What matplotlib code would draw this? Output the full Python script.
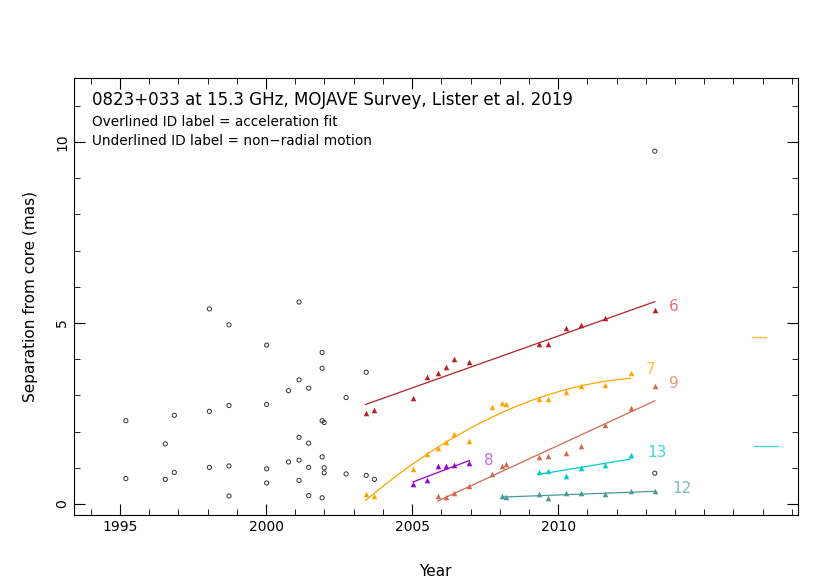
import numpy as np
import matplotlib
matplotlib.use("Agg")
import matplotlib.pyplot as plt
from matplotlib.lines import Line2D

grey_year = [1995.2,1995.2,1996.55,1996.55,1996.86,1996.86,1998.06,1998.06,1998.06,
             1998.73,1998.73,1998.73,1998.73,2000.02,2000.02,2000.02,2000.02,
             2000.77,2000.77,2001.13,2001.13,2001.13,2001.13,2001.13,
             2001.46,2001.46,2001.46,2001.46,2001.92,2001.92,2001.92,2001.92,2001.92,
             2001.99,2001.99,2001.99,2002.74,2002.74,2003.43,2003.43,2003.71,2013.31,2013.31]
grey_sep = [2.30,0.70,1.66,0.68,2.45,0.87,5.39,2.56,1.01,
            4.95,2.72,1.05,0.22,4.39,2.75,0.97,0.58,
            3.13,1.16,5.58,3.43,1.84,1.21,0.65,
            3.20,1.68,1.01,0.23,4.19,3.75,2.30,1.30,0.17,
            2.25,1.00,0.86,2.94,0.83,3.64,0.79,0.68,9.75,0.85]

c6_year = [2003.41,2003.71,2005.04,2005.50,2005.88,2006.17,2006.45,2006.96,2009.35,2009.65,2010.26,2010.78,2011.60,2013.31]
c6_sep  = [2.52,2.61,2.94,3.51,3.63,3.79,4.01,3.93,4.41,4.41,4.86,4.95,5.13,5.36]
c6_fit_year = [2003.41,2013.31]; c6_fit_sep = [2.75,5.59]

c7_year = [2003.41,2003.71,2005.04,2005.50,2005.88,2006.17,2006.45,2006.96,2007.73,2008.09,2008.23,2009.35,2009.65,2010.26,2010.78,2011.60,2012.48]
c7_sep  = [0.27,0.22,0.96,1.37,1.54,1.72,1.92,1.75,2.68,2.79,2.75,2.91,2.90,3.10,3.27,3.30,3.63]
c7_fit_year = [2003.41,2006.32,2009.35,2012.48]; c7_fit_sep = [0.09,1.81,2.91,3.48]

c8_year = [2005.04,2005.50,2005.88,2006.17,2006.45,2006.96]
c8_sep  = [0.56,0.66,1.04,1.04,1.08,1.12]
c8_fit_year = [2005.04,2006.96]; c8_fit_sep = [0.61,1.20]

c9_year = [2005.88,2006.17,2006.45,2006.96,2007.73,2008.09,2008.23,2009.35,2009.65,2010.26,2010.78,2011.60,2012.48,2013.31]
c9_sep  = [0.23,0.20,0.29,0.49,0.83,1.06,1.10,1.29,1.33,1.40,1.61,2.17,2.66,3.27]
c9_fit_year = [2005.88,2013.31]; c9_fit_sep = [0.08,2.85]

c13_year = [2009.35,2009.65,2010.26,2010.78,2011.60,2012.48]
c13_sep  = [0.88,0.92,0.77,1.00,1.09,1.35]
c13_fit_year = [2009.35,2012.48]; c13_fit_sep = [0.82,1.24]

c12_year = [2008.09,2008.23,2009.35,2009.65,2010.26,2010.78,2011.60,2012.48,2013.31]
c12_sep  = [0.22,0.20,0.28,0.17,0.30,0.30,0.28,0.35,0.36]
c12_fit_year = [2008.09,2013.31]; c12_fit_sep = [0.19,0.35]

label_year = [2013.8, 2013.0, 2007.45, 2013.8, 2013.05, 2013.9]
label_sep  = [5.45, 3.72, 1.19, 3.34, 1.43, 0.42]

fig = plt.figure(figsize=(8.3,5.87), dpi=100)
ax = fig.add_axes([0.089,0.123,0.872,0.744])
ax.scatter(grey_year, grey_sep, s=9, facecolors='none', edgecolors='#333333', linewidths=0.7, zorder=3)

comps = [
    ("6", c6_year, c6_sep, c6_fit_year, c6_fit_sep, '#b22222', '#e07070', 1, None),
    ("7", c7_year, c7_sep, c7_fit_year, c7_fit_sep, '#ffa500', '#ffc040', 2, 'over'),
    ("8", c8_year, c8_sep, c8_fit_year, c8_fit_sep, '#9400d3', '#c070e0', 1, None),
    ("9", c9_year, c9_sep, c9_fit_year, c9_fit_sep, '#d2694f', '#e89878', 1, None),
    ("13", c13_year, c13_sep, c13_fit_year, c13_fit_sep, '#00cccc', '#40d8d8', 1, 'under'),
    ("12", c12_year, c12_sep, c12_fit_year, c12_fit_sep, '#4a9a9a', '#80b8b8', 1, None),
]
decos = []
for i, (lab, yr, sp, fy, fs, col, lcol, deg, deco) in enumerate(comps):
    ax.scatter(yr, sp, marker='^', s=16, color=col, zorder=4, linewidths=0)
    p = np.polyfit(fy, fs, deg)
    xx = np.linspace(fy[0], fy[-1], 100)
    ax.plot(xx, np.polyval(p, xx), color=col, lw=0.9, zorder=3)
    t = ax.text(label_year[i], label_sep[i], lab, color=lcol, fontsize=11, va='center', ha='left')
    if deco:
        decos.append((t, deco, lcol))

fig.canvas.draw()
r = fig.canvas.get_renderer()
for t, deco, c in decos:
    bb = t.get_window_extent(r)
    y = bb.y1 + 1 if deco == 'over' else bb.y0 + 1
    x0, x1 = bb.x0 - 1, bb.x1 + 3
    inv = fig.transFigure.inverted()
    (fx0, fy0), (fx1, _) = inv.transform([(x0, y), (x1, y)])
    fig.add_artist(Line2D([fx0, fx1], [fy0, fy0], color=c, lw=1, transform=fig.transFigure))

ax.set_xlim(1993.42, 2018.2)
ax.set_ylim(-0.3, 11.77)
ax.set_xticks([1995,2000,2005,2010])
ax.set_yticks([0,5,10])
ax.set_xticks(np.arange(1994,2019,1), minor=True)
ax.set_yticks(np.arange(0,12,1), minor=True)
ax.tick_params(which='both', direction='in', top=True, right=True)
ax.tick_params(which='major', length=8)
ax.tick_params(which='minor', length=4)
for l in ax.get_yticklabels():
    l.set_rotation(90); l.set_va('center')
ax.set_xlabel("Year", fontsize=11, labelpad=22)
ax.set_ylabel("Separation from core (mas)", fontsize=11, labelpad=12)
ax.text(0.025, 0.95, "0823+033 at 15.3 GHz, MOJAVE Survey, Lister et al. 2019", transform=ax.transAxes, fontsize=12, va='center')
ax.text(0.025, 0.9, "Overlined ID label = acceleration fit", transform=ax.transAxes, fontsize=9.8, va='center')
ax.text(0.025, 0.857, "Underlined ID label = non\u2212radial motion", transform=ax.transAxes, fontsize=9.8, va='center')
fig.savefig("out.png", dpi=100)
